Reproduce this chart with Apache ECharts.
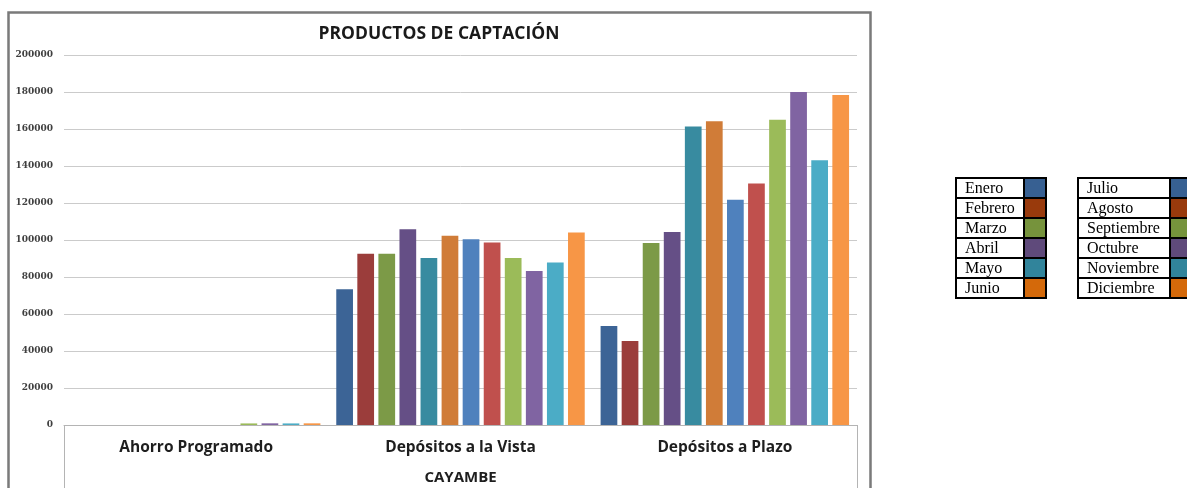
<!DOCTYPE html>
<html>
<head>
<meta charset="utf-8">
<script src="https://cdn.jsdelivr.net/npm/echarts@6/dist/echarts.min.js"></script>
<style>
  html, body { margin: 0; padding: 0; background: #ffffff; }
  #chart { width: 1187px; height: 488px; }
</style>
</head>
<body>
<div id="chart"></div>
<script>
// Product groups on the category axis
const categories = ['Ahorro Programado', 'Depósitos a la Vista', 'Depósitos a Plazo'];
const axisTitle = 'CAYAMBE';
const chartTitle = 'PRODUCTOS DE CAPTACIÓN';

// Months (one series each)
const months = ['Enero', 'Febrero', 'Marzo', 'Abril', 'Mayo', 'Junio',
                'Julio', 'Agosto', 'Septiembre', 'Octubre', 'Noviembre', 'Diciembre'];

// Monthly balances per product, Enero..Diciembre
const ahorroProgramado = [0, 0, 0, 0, 0, 0, 0, 0, 850, 900, 850, 900];
const depositosVista   = [73400, 92600, 92600, 105800, 90300, 102300, 100400, 98700, 90300, 83200, 87900, 104000];
const depositosPlazo   = [53500, 45400, 98400, 104300, 161400, 164200, 121800, 130600, 165000, 180000, 143100, 178400];

// Y axis ticks
const yMin = 0, yMax = 200000, yStep = 20000;

// Styling
const barColors = ['#3c6496', '#9b3d3b', '#7c9a47', '#654f86', '#388ba0', '#d07c38',
                   '#4f81bd', '#c0504d', '#9bbb59', '#8064a2', '#4bacc6', '#f79646'];
const keyColors = ['#376092', '#993a0c', '#76933c', '#5f4a7b', '#31849b', '#d4690a'];

const GRID = { left: 64, right: 330, top: 55, bottom: 63 };
const W = 1187, H = 488;
const plotRight = W - GRID.right;
const plotBottom = H - GRID.bottom;

const series = months.map((m, i) => ({
  name: m,
  type: 'bar',
  barGap: '26%',
  barCategoryGap: '6%',
  itemStyle: { color: barColors[i] },
  data: [ahorroProgramado[i], depositosVista[i], depositosPlazo[i]]
}));

// Key tables drawn beside the chart: two tables of six rows each
const keyGraphics = [];
const rowH = 20, keyTop = 178;
const tables = [
  { x: 956, textW: 68, swW: 22 },
  { x: 1078, textW: 92, swW: 22 }
];
tables.forEach((t, ti) => {
  for (let r = 0; r < 6; r++) {
    const idx = ti * 6 + r;
    const y = keyTop + r * rowH;
    keyGraphics.push({
      type: 'rect',
      shape: { x: t.x + t.textW, y: y, width: t.swW, height: rowH },
      style: { fill: keyColors[r], stroke: '#000', lineWidth: 2 },
      z: 10
    });
    keyGraphics.push({
      type: 'rect',
      shape: { x: t.x, y: y, width: t.textW, height: rowH },
      style: { fill: '#fff', stroke: '#000', lineWidth: 2 },
      z: 10
    });
    keyGraphics.push({
      type: 'text',
      x: t.x + 9, y: y + rowH / 2 + 1,
      style: {
        text: months[idx],
        font: '16px "Liberation Serif", "Times New Roman", serif',
        fill: '#000',
        textVerticalAlign: 'middle',
        verticalAlign: 'middle'
      },
      z: 11
    });
  }
});

const chart = echarts.init(document.getElementById('chart'), null, { renderer: 'canvas' });
chart.setOption({
  animation: false,
  backgroundColor: '#ffffff',
  grid: {
    left: GRID.left, right: GRID.right, top: GRID.top, bottom: GRID.bottom,
    containLabel: false, outerBoundsMode: 'none'
  },
  xAxis: {
    type: 'category',
    data: categories,
    name: axisTitle,
    nameLocation: 'middle',
    nameGap: 45,
    nameTextStyle: { fontFamily: '"Open Sans", sans-serif', fontWeight: 'bold', fontSize: 15, color: '#1e1e1e' },
    axisLine: { show: true, lineStyle: { color: '#b4b4b4', width: 1 } },
    axisTick: { show: false },
    axisLabel: {
      margin: 14,
      fontFamily: '"Open Sans", sans-serif', fontWeight: 'bold', fontSize: 15.5, color: '#1e1e1e',
      lineHeight: 18
    }
  },
  yAxis: {
    type: 'value',
    min: yMin, max: yMax, interval: yStep,
    axisLine: { show: false },
    axisTick: { show: false },
    splitLine: { lineStyle: { color: '#cbcbcb', width: 1 } },
    axisLabel: {
      margin: 11,
      formatter: v => String(v),
      fontFamily: '"DejaVu Serif", serif', fontWeight: 'bold', fontSize: 9, color: '#404040'
    }
  },
  series: series,
  graphic: [
    // outer chart frame
    {
      type: 'rect',
      shape: { x: 8.5, y: 12.5, width: 862, height: 520 },
      style: { fill: 'none', stroke: '#7a7a7a', lineWidth: 2.5 },
      z: 5
    },
    {
      type: 'text',
      x: 439, y: 34,
      style: {
        text: chartTitle,
        font: 'bold 17.5px "Open Sans", sans-serif',
        fill: '#1a1a1a',
        textAlign: 'center',
        textVerticalAlign: 'middle',
        align: 'center',
        verticalAlign: 'middle'
      },
      z: 5
    },
    // side lines of the category label box
    {
      type: 'line',
      shape: { x1: GRID.left + 0.5, y1: plotBottom, x2: GRID.left + 0.5, y2: H + 5 },
      style: { stroke: '#b4b4b4', lineWidth: 1 },
      z: 5
    },
    {
      type: 'line',
      shape: { x1: plotRight + 0.5, y1: plotBottom, x2: plotRight + 0.5, y2: H + 5 },
      style: { stroke: '#b4b4b4', lineWidth: 1 },
      z: 5
    }
  ].concat(keyGraphics)
});
</script>
</body>
</html>
